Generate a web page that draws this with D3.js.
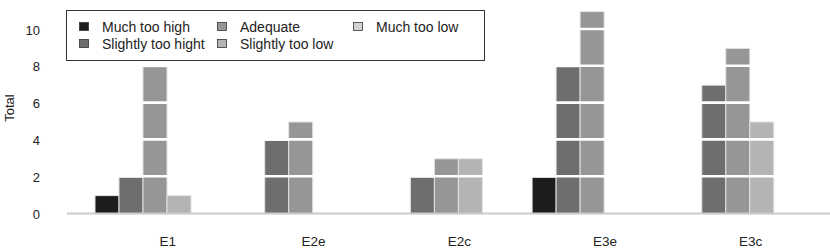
<!DOCTYPE html>
<html>
<head>
<meta charset="utf-8">
<script src="https://cdn.jsdelivr.net/npm/d3@7"></script>
<style>
  html, body { margin: 0; padding: 0; background: #fff; }
  svg { display: block; font-family: "Liberation Sans", Arial, sans-serif; }
</style>
</head>
<body>
<svg id="chart" width="830" height="251"></svg>
<script>
const categories = ["E1", "E2e", "E2c", "E3e", "E3c"];
const seriesNames = ["Much too high", "Slightly too hight", "Adequate", "Slightly too low", "Much too low"];
const muchTooHigh     = [1, 0, 0, 2, 0];
const slightlyTooHigh = [2, 4, 2, 8, 7];
const adequate        = [8, 5, 3, 11, 9];
const slightlyTooLow  = [1, 0, 3, 0, 5];
const muchTooLow      = [0, 0, 0, 0, 0];
const yTicks = [0, 2, 4, 6, 8, 10];
const colors = ["#1c1c1c", "#6e6e6e", "#969696", "#b4b4b4", "#d2d2d2"];

const values = [muchTooHigh, slightlyTooHigh, adequate, slightlyTooLow, muchTooLow];
const data = [];
categories.forEach((c, ci) => {
  seriesNames.forEach((s, si) => data.push({ cat: c, series: s, value: values[si][ci] }));
});

const svg = d3.select("#chart");
const x0 = d3.scaleBand().domain(categories).range([95, 95 + 5 * 145.7]).paddingInner(0).paddingOuter(0);
const x1 = d3.scaleBand().domain(seriesNames).range([0, 120]).padding(0);
const y = d3.scaleLinear().domain([0, 10]).range([214, 30]);
const color = d3.scaleOrdinal().domain(seriesNames).range(colors);

// bars
svg.append("g").selectAll("rect").data(data.filter(d => d.value > 0)).join("rect")
  .attr("x", d => x0(d.cat) + x1(d.series))
  .attr("y", d => y(d.value))
  .attr("width", x1.bandwidth())
  .attr("height", d => y(0) - y(d.value))
  .attr("fill", d => color(d.series))
  .attr("stroke", "#e2e2e2")
  .attr("stroke-width", 1);

// white grid lines over bars
svg.append("g").selectAll("line").data(yTicks.filter(t => t > 0)).join("line")
  .attr("x1", 67).attr("x2", 830)
  .attr("y1", d => y(d) - 1).attr("y2", d => y(d) - 1)
  .attr("stroke", "#fff").attr("stroke-width", 2.6);

// baseline
svg.append("line")
  .attr("x1", 67).attr("x2", 830)
  .attr("y1", y(0) - 0.5).attr("y2", y(0) - 0.5)
  .attr("stroke", "#cbcbcb").attr("stroke-width", 2);

// y axis
const yAxis = svg.append("g").attr("transform", "translate(43,0)")
  .call(d3.axisLeft(y).tickValues(yTicks).tickSize(0).tickPadding(3));
yAxis.select(".domain").remove();
yAxis.selectAll("text").attr("font-size", 13).attr("fill", "#222").attr("font-family", "Liberation Sans, Arial, sans-serif");

// x axis
const xAxis = svg.append("g").attr("transform", "translate(0,236)")
  .call(d3.axisBottom(x0).tickSize(0).tickPadding(0));
xAxis.select(".domain").remove();
xAxis.selectAll("text").attr("font-size", 13.5).attr("fill", "#222").attr("font-family", "Liberation Sans, Arial, sans-serif");

// y title
svg.append("text")
  .attr("transform", "translate(14,108) rotate(-90)")
  .attr("text-anchor", "middle")
  .attr("font-size", 13).attr("fill", "#222")
  .text("Total");

// legend
const lg = svg.append("g");
lg.append("rect").attr("x", 66.5).attr("y", 10.5).attr("width", 418).attr("height", 50)
  .attr("fill", "#fff").attr("stroke", "#333").attr("stroke-width", 1);
const colX = [79, 217, 353];
const rowY = [27, 44];
seriesNames.forEach((s, i) => {
  const col = Math.floor(i / 2), row = i % 2;
  const g = lg.append("g").attr("transform", `translate(${colX[col]},${rowY[row]})`);
  g.append("rect").attr("x", 0.5).attr("y", -4.5).attr("width", 9).attr("height", 8)
    .attr("fill", color(s)).attr("stroke", "#333").attr("stroke-width", 0.8);
  g.append("text").attr("x", 23).attr("y", 0).attr("dy", "0.35em")
    .attr("font-size", 14).attr("fill", "#222").text(s);
});
</script>
</body>
</html>
